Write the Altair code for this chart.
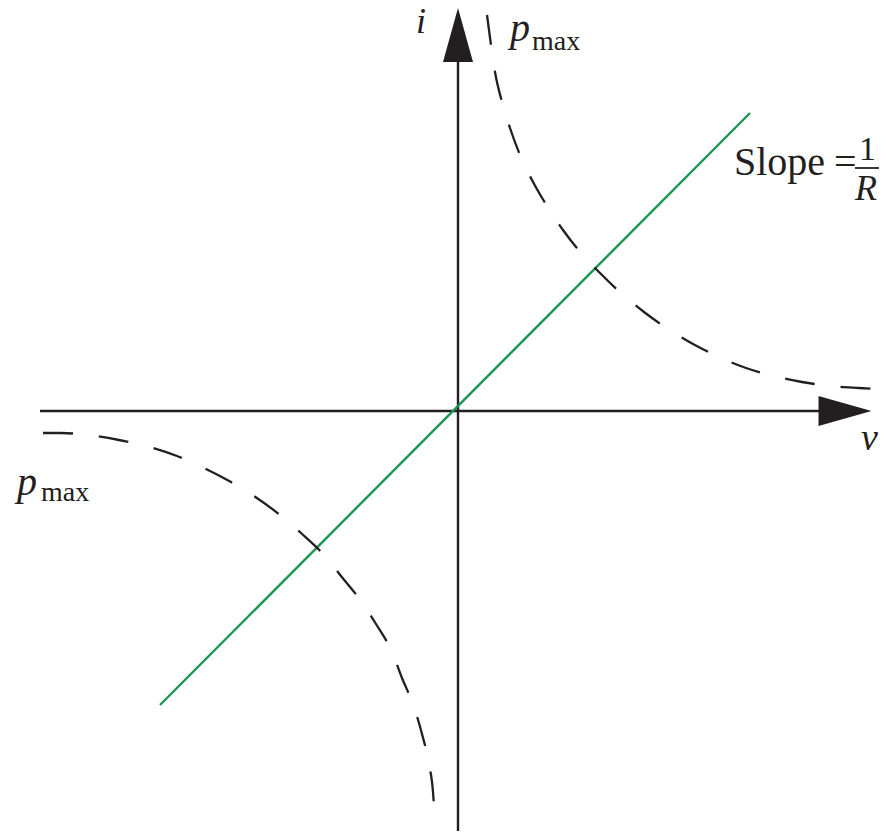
import altair as alt
import pandas as pd

# ---- data (v, i in diagram units; origin at axis crossing) ----
upper_v = [0.29, 0.33, 0.37, 0.44, 0.52, 0.62, 0.74, 0.89, 1.05, 1.23, 1.43,
           1.64, 1.86, 2.10, 2.35, 2.61, 2.88, 3.16, 3.44, 3.73, 4.01, 4.18]
upper_i = [3.96, 3.66, 3.39, 3.09, 2.83, 2.56, 2.31, 2.05, 1.81, 1.58, 1.37,
           1.17, 0.99, 0.82, 0.67, 0.54, 0.43, 0.35, 0.29, 0.25, 0.23, 0.22]
lower_v = [-4.15, -3.97, -3.70, -3.39, -3.12, -2.81, -2.56, -2.27, -2.04, -1.78, -1.57,
           -1.34, -1.17, -0.97, -0.82, -0.66, -0.56, -0.44, -0.36, -0.29, -0.25, -0.23]
lower_i = [-0.22, -0.22, -0.24, -0.29, -0.35, -0.45, -0.56, -0.71, -0.85, -1.04, -1.22,
           -1.44, -1.65, -1.90, -2.13, -2.41, -2.67, -2.96, -3.23, -3.53, -3.81, -4.12]
line_v = [-2.98, 2.92]
line_i = [-2.94, 2.98]

# axes extents
haxis_v = [-4.18, 3.66]
vaxis_i = [3.49, -4.40]
arrow_up_pos = [0.0, 3.76]
arrow_right_pos = [3.87, 0.0]

# labels
italic_labels = ["i", "p", "p", "v", "R"]
italic_v = [-0.42, 0.52, -4.41, 4.03, 3.97]
italic_i = [3.78, 3.70, -0.84, -0.39, 2.11]
italic_size = [36, 40, 40, 38, 36]

roman_labels = ["max", "max", "Slope", "=", "1"]
roman_v = [0.74, -4.17, 2.76, 3.76, 4.01]
roman_i = [3.61, -0.90, 2.36, 2.36, 2.51]
roman_size = [28, 28, 40, 40, 34]

frac_v = [3.97, 4.25]
frac_i = 2.43

INK = "#231f20"
GREEN = "#1a9652"
W, H = 871, 823

xs = alt.Scale(domain=[-4.5, 4.21], nice=False, zero=False)
ys = alt.Scale(domain=[-4.20, 4.03], nice=False, zero=False)

def X(field="v"):
    return alt.X(f"{field}:Q", scale=xs, axis=None)

def Y(field="i"):
    return alt.Y(f"{field}:Q", scale=ys, axis=None)

haxis = alt.Chart(pd.DataFrame({"v": [haxis_v[0]], "v2": [haxis_v[1]], "i": [0.0]})).mark_rule(
    color=INK, strokeWidth=2.4).encode(x=X(), x2="v2:Q", y=Y())
vaxis = alt.Chart(pd.DataFrame({"v": [0.0], "i": [vaxis_i[0]], "i2": [vaxis_i[1]]})).mark_rule(
    color=INK, strokeWidth=2.4, clip=True).encode(x=X(), y=Y(), y2="i2:Q")

arrow_up = alt.Chart(pd.DataFrame({"v": [arrow_up_pos[0]], "i": [arrow_up_pos[1]]})).mark_point(
    shape="M0,-1L0.556,1L-0.556,1Z", size=54 * 54, filled=True, color=INK, opacity=1,
    strokeWidth=0).encode(x=X(), y=Y())
arrow_right = alt.Chart(pd.DataFrame({"v": [arrow_right_pos[0]], "i": [arrow_right_pos[1]]})).mark_point(
    shape="M1,0L-1,-0.566L-1,0.566Z", size=53 * 53, filled=True, color=INK, opacity=1,
    strokeWidth=0).encode(x=X(), y=Y())

green = alt.Chart(pd.DataFrame({"v": line_v, "i": line_i})).mark_line(
    color=GREEN, strokeWidth=2.4).encode(x=X(), y=Y())

curves_df = pd.DataFrame({
    "v": upper_v + lower_v,
    "i": upper_i + lower_i,
    "curve": ["upper"] * len(upper_v) + ["lower"] * len(lower_v),
    "k": list(range(len(upper_v))) + list(range(len(lower_v))),
})
curves = alt.Chart(curves_df).mark_line(
    color=INK, strokeWidth=2.3, strokeDash=[30, 26], interpolate="monotone").encode(
    x=X(), y=Y(), detail="curve:N", order="k:Q")

ital_df = pd.DataFrame({"t": italic_labels, "v": italic_v, "i": italic_i, "s": italic_size})
ital = alt.Chart(ital_df).mark_text(
    font="Liberation Serif", fontStyle="italic", align="left", baseline="alphabetic", color=INK
).encode(x=X(), y=Y(), text="t:N", size=alt.Size("s:Q", scale=None, legend=None))

rom_df = pd.DataFrame({"t": roman_labels, "v": roman_v, "i": roman_i, "s": roman_size})
rom = alt.Chart(rom_df).mark_text(
    font="Liberation Serif", align="left", baseline="alphabetic", color=INK
).encode(x=X(), y=Y(), text="t:N", size=alt.Size("s:Q", scale=None, legend=None))

frac = alt.Chart(pd.DataFrame({"v": [frac_v[0]], "v2": [frac_v[1]], "i": [frac_i]})).mark_rule(
    color=INK, strokeWidth=1.8).encode(x=X(), x2="v2:Q", y=Y())

chart = alt.layer(haxis, vaxis, arrow_up, arrow_right, green, curves, ital, rom, frac).properties(
    width=W, height=H, padding=0, autosize="none"
).configure_view(stroke=None)

chart.save("out.html", embed_options={"renderer": "svg", "actions": False})
